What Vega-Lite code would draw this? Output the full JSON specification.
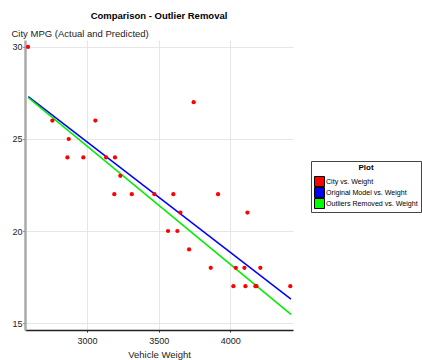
{
  "$schema": "https://vega.github.io/schema/vega-lite/v6.json",
  "width": 268,
  "height": 290,
  "autosize": {"type": "none"},
  "padding": {"left": 25, "top": 40, "right": 129, "bottom": 30},
  "background": "white",
  "title": {"text": "Comparison - Outlier Removal", "font": "Liberation Sans", "fontSize": 9.5, "fontWeight": "bold", "color": "#000", "anchor": "middle", "frame": "group", "offset": 8},
  "config": {
    "view": {"stroke": null},
    "axis": {"labelFont": "Liberation Sans", "titleFont": "Liberation Sans", "labelFontSize": 9, "titleFontSize": 9.5, "labelColor": "#222", "titleColor": "#222", "titleFontWeight": "normal", "gridColor": "#e6e6e6", "gridWidth": 1, "tickColor": "#333", "tickSize": 2}
  },
  "datasets": {
    "pts": [
      {"w": 2588, "mpg": 30, "s": "City vs. Weight"},
      {"w": 2758, "mpg": 26, "s": "City vs. Weight"},
      {"w": 2863, "mpg": 24, "s": "City vs. Weight"},
      {"w": 2872, "mpg": 25, "s": "City vs. Weight"},
      {"w": 2974, "mpg": 24, "s": "City vs. Weight"},
      {"w": 3058, "mpg": 26, "s": "City vs. Weight"},
      {"w": 3133, "mpg": 24, "s": "City vs. Weight"},
      {"w": 3195, "mpg": 24, "s": "City vs. Weight"},
      {"w": 3190, "mpg": 22, "s": "City vs. Weight"},
      {"w": 3232, "mpg": 23, "s": "City vs. Weight"},
      {"w": 3312, "mpg": 22, "s": "City vs. Weight"},
      {"w": 3470, "mpg": 22, "s": "City vs. Weight"},
      {"w": 3602, "mpg": 22, "s": "City vs. Weight"},
      {"w": 3744, "mpg": 27, "s": "City vs. Weight"},
      {"w": 3651, "mpg": 21, "s": "City vs. Weight"},
      {"w": 3565, "mpg": 20, "s": "City vs. Weight"},
      {"w": 3630, "mpg": 20, "s": "City vs. Weight"},
      {"w": 3712, "mpg": 19, "s": "City vs. Weight"},
      {"w": 3914, "mpg": 22, "s": "City vs. Weight"},
      {"w": 4119, "mpg": 21, "s": "City vs. Weight"},
      {"w": 3863, "mpg": 18, "s": "City vs. Weight"},
      {"w": 4038, "mpg": 18, "s": "City vs. Weight"},
      {"w": 4098, "mpg": 18, "s": "City vs. Weight"},
      {"w": 4209, "mpg": 18, "s": "City vs. Weight"},
      {"w": 4021, "mpg": 17, "s": "City vs. Weight"},
      {"w": 4105, "mpg": 17, "s": "City vs. Weight"},
      {"w": 4175, "mpg": 17, "s": "City vs. Weight"},
      {"w": 4182, "mpg": 17, "s": "City vs. Weight"},
      {"w": 4418, "mpg": 17, "s": "City vs. Weight"}
    ],
    "lines": [
      {"w": 2590, "mpg": 27.3, "s": "Original Model vs. Weight"},
      {"w": 4423, "mpg": 16.3, "s": "Original Model vs. Weight"},
      {"w": 2590, "mpg": 27.25, "s": "Outliers Removed vs. Weight"},
      {"w": 4423, "mpg": 15.47, "s": "Outliers Removed vs. Weight"}
    ]
  },
  "layer": [
    {
      "data": {"name": "lines"},
      "mark": {"type": "line", "strokeWidth": 1.5, "clip": true},
      "encoding": {
        "x": {"field": "w", "type": "quantitative", "scale": {"domain": [2567, 4437], "nice": false, "zero": false},
          "axis": {"values": [3000, 3500, 4000], "format": "d", "title": "Vehicle Weight", "domainColor": "#222", "domainWidth": 1.5, "labelPadding": 4, "titlePadding": 4, "grid": true}},
        "y": {"field": "mpg", "type": "quantitative", "scale": {"domain": [14.62, 30.38], "nice": false, "zero": false},
          "axis": {"values": [15, 20, 25, 30], "title": "City MPG (Actual and Predicted)", "titleAngle": 0, "titleAlign": "left", "titleBaseline": "bottom", "titleX": -14, "titleY": -2, "domainColor": "#aaaaaa", "domainWidth": 2.5, "labelPadding": 1, "grid": true}},
        "stroke": {"field": "s", "type": "nominal", "scale": {"domain": ["Original Model vs. Weight", "Outliers Removed vs. Weight"], "range": ["#0000ff", "#00ee00"]}, "legend": null},
        "detail": {"field": "s"}
      }
    },
    {
      "data": {"name": "pts"},
      "mark": {"type": "circle", "size": 18, "opacity": 1},
      "encoding": {
        "x": {"field": "w", "type": "quantitative"},
        "y": {"field": "mpg", "type": "quantitative"},
        "fill": {"field": "s", "type": "nominal",
          "scale": {"domain": ["City vs. Weight", "Original Model vs. Weight", "Outliers Removed vs. Weight"], "range": ["#ff0000", "#0000ff", "#00ff00"]},
          "legend": {"title": "Plot", "orient": "none", "legendX": 286, "legendY": 121, "symbolType": "square", "symbolSize": 100, "clipHeight": 11, "symbolStrokeColor": "#000", "symbolStrokeWidth": 1, "symbolOpacity": 1, "titleFont": "Liberation Sans", "titleFontSize": 8, "titleFontWeight": "bold", "titleColor": "#000", "titleAnchor": "middle", "titleAlign": "center", "titlePadding": 4, "labelFont": "Liberation Sans", "labelFontSize": 7.1, "labelColor": "#000", "labelOffset": 1, "rowPadding": 0, "padding": 3, "strokeColor": "#444", "fillColor": "white", "cornerRadius": 0}}
      }
    }
  ]
}
